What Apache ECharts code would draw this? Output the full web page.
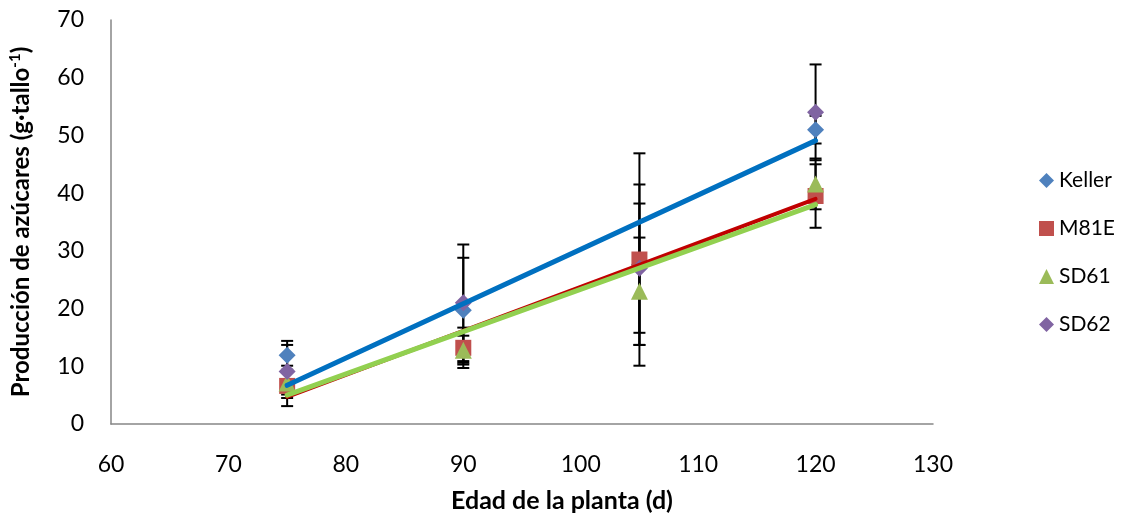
<!DOCTYPE html>
<html>
<head>
<meta charset="utf-8">
<script src="https://cdn.jsdelivr.net/npm/echarts@6/dist/echarts.min.js"></script>
<style>
  html, body { margin: 0; padding: 0; background: #fff; }
  #chart { width: 1124px; height: 520px; }
</style>
</head>
<body>
<div id="chart"></div>
<script>
// Plant age (days) at each sampling
const ages = [75, 90, 105, 120];

// Mean sugar production per stalk and standard deviation, by cultivar
const keller   = [11.9, 19.7, 27.6, 51.0];
const kellerSd = [2.5, 9.1, 13.9, 2.4];
const m81e     = [6.6, 13.2, 28.5, 39.5];
const m81eSd   = [3.5, 3.5, 18.4, 5.5];
const sd61     = [7.1, 12.8, 23.0, 41.6];
const sd61Sd   = [2.0, 2.5, 9.3, 4.4];
const sd62     = [9.1, 21.0, 27.0, 54.0];
const sd62Sd   = [4.6, 10.1, 11.2, 8.3];

// Linear trend lines, value at the first and last sampling age
const trendAges   = [75, 120];
const trendKeller = [6.7, 49.1];
const trendM81e   = [4.7, 39.0];
const trendSd61   = [5.0, 38.0];

// Axis ticks
const xTicks = { min: 60, max: 130, step: 10 };
const yTicks = { min: 0, max: 70, step: 10 };

const FONT = 'Lato, "Open Sans", sans-serif';

const pairs = (xs, ys) => xs.map((x, i) => [x, ys[i]]);
const bars = (xs, ys, sd) => xs.map((x, i) => [x, ys[i] - sd[i], ys[i] + sd[i]]);

function renderErrorBar(params, api) {
  const x = api.value(0);
  const lo = api.coord([x, api.value(1)]);
  const hi = api.coord([x, api.value(2)]);
  const hw = 6;
  const st = { stroke: '#000', lineWidth: 2 };
  return {
    type: 'group',
    children: [
      { type: 'line', shape: { x1: hi[0], y1: hi[1], x2: lo[0], y2: lo[1] }, style: st },
      { type: 'line', shape: { x1: hi[0] - hw, y1: hi[1], x2: hi[0] + hw, y2: hi[1] }, style: st },
      { type: 'line', shape: { x1: lo[0] - hw, y1: lo[1], x2: lo[0] + hw, y2: lo[1] }, style: st }
    ]
  };
}

const cultivars = [
  { name: 'Keller', values: keller, sd: kellerSd, color: '#4F81BD', symbol: 'diamond', size: 17 },
  { name: 'M81E',   values: m81e,   sd: m81eSd,   color: '#C0504D', symbol: 'rect',    size: 16 },
  { name: 'SD61',   values: sd61,   sd: sd61Sd,   color: '#9BBB59', symbol: 'triangle', size: 17 },
  { name: 'SD62',   values: sd62,   sd: sd62Sd,   color: '#8064A2', symbol: 'diamond', size: 17 }
];

const series = [];
cultivars.forEach(c => {
  series.push({
    type: 'custom',
    name: c.name + ' sd',
    renderItem: renderErrorBar,
    encode: { x: 0, y: [1, 2] },
    data: bars(ages, c.values, c.sd),
    z: 1,
    silent: true
  });
});
cultivars.forEach(c => {
  series.push({
    type: 'scatter',
    name: c.name,
    symbol: c.symbol,
    symbolSize: c.size,
    itemStyle: { color: c.color, opacity: 1 },
    data: pairs(ages, c.values),
    z: 2
  });
});
[
  { values: trendKeller, color: '#0070C0', width: 5 },
  { values: trendM81e,   color: '#C00000', width: 4 },
  { values: trendSd61,   color: '#92D050', width: 5 }
].forEach((t, i) => {
  series.push({
    type: 'line',
    name: 'trend' + i,
    data: pairs(trendAges, t.values),
    showSymbol: false,
    symbol: 'none',
    lineStyle: { color: t.color, width: t.width, cap: 'round' },
    z: 3,
    silent: true
  });
});

const chart = echarts.init(document.getElementById('chart'), null, { renderer: 'canvas' });
chart.setOption({
  animation: false,
  backgroundColor: '#fff',
  grid: { left: 111, right: 191, top: 20, bottom: 96, containLabel: false },
  legend: {
    data: cultivars.map(c => ({ name: c.name, icon: c.symbol })),
    orient: 'vertical',
    left: 1034,
    top: 165,
    itemWidth: 15,
    itemHeight: 15,
    itemGap: 27,
    textStyle: { fontFamily: FONT, fontSize: 21, color: '#000', lineHeight: 21 }
  },
  xAxis: {
    type: 'value',
    min: xTicks.min, max: xTicks.max, interval: xTicks.step,
    name: 'Edad de la planta (d)',
    nameLocation: 'middle',
    nameGap: 64,
    nameTextStyle: { fontFamily: FONT, fontSize: 25, fontWeight: 'bold', color: '#000', padding: [0, 0, 0, 80] },
    axisLine: { lineStyle: { color: '#868686', width: 1.5 } },
    axisTick: { show: false },
    splitLine: { show: false },
    axisLabel: { fontFamily: FONT, fontSize: 23, color: '#000', margin: 29 }
  },
  yAxis: {
    type: 'value',
    min: yTicks.min, max: yTicks.max, interval: yTicks.step,
    name: '{t|Producción de azúcares (g·tallo}{s|-1}{t|)}',
    nameLocation: 'middle',
    nameGap: 77,
    nameRotate: 90,
    nameTextStyle: {
      rich: {
        t: { fontFamily: FONT, fontSize: 24, fontWeight: 'bold', color: '#000' },
        s: { fontFamily: FONT, fontSize: 15, fontWeight: 'bold', color: '#000', verticalAlign: 'top', padding: [0, 0, 11, 0] }
      }
    },
    axisLine: { show: true, lineStyle: { color: '#868686', width: 1.5 } },
    axisTick: { show: false },
    splitLine: { show: false },
    axisLabel: { fontFamily: FONT, fontSize: 23, color: '#000', margin: 27 }
  },
  series: series
});
</script>
</body>
</html>
